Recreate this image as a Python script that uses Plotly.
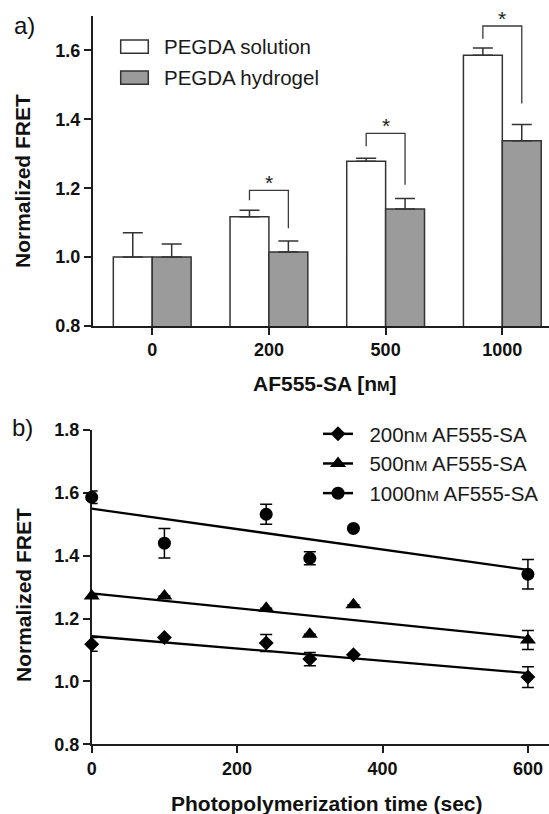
import numpy as np
import plotly.graph_objects as go

# ---------------- data: panel a ----------------
conc_labels = ["0", "200", "500", "1000"]
solution_vals = [1.000, 1.117, 1.278, 1.586]
solution_err = [0.071, 0.019, 0.009, 0.021]
hydrogel_vals = [1.000, 1.015, 1.140, 1.338]
hydrogel_err = [0.038, 0.032, 0.030, 0.047]
# significance brackets (category index, left leg bottom, top, right leg bottom)
sig_idx = [1, 2, 3]
sig_left_bottom = [1.165, 1.322, 1.634]
sig_top = [1.194, 1.359, 1.671]
sig_right_bottom = [1.084, 1.210, 1.446]

# ---------------- data: panel b ----------------
time_sec = [0, 100, 240, 300, 360, 600]
fret_200 = [1.118, 1.140, 1.122, 1.071, 1.085, 1.014]
err_200 = [0.022, 0.0, 0.027, 0.021, 0.0, 0.033]
fret_500 = [1.272, 1.272, 1.233, 1.150, 1.244, 1.132]
err_500 = [0.0, 0.0, 0.0, 0.0, 0.0, 0.030]
fret_1000 = [1.586, 1.440, 1.532, 1.392, 1.487, 1.341]
err_1000 = [0.020, 0.047, 0.032, 0.021, 0.0, 0.047]
fit_x = [0, 600]

W, H = 549, 814
FONT = "Liberation Sans, Arial, sans-serif"
AX = "#1e1e1e"
EDGE = "#333333"
GRAY = "#9b9b9b"


def px(x):
    return x / W


def py(y):
    return 1 - y / H


fig = go.Figure()

# ---------- panel a bars ----------
xcat = list(range(len(conc_labels)))
fig.add_trace(go.Bar(
    x=xcat, y=solution_vals, name="PEGDA solution", showlegend=False,
    marker=dict(color="white", line=dict(color=EDGE, width=1.5)),
    error_y=dict(type="data", symmetric=False, array=solution_err,
                 arrayminus=[0] * len(solution_err), color=EDGE, thickness=1.5, width=10),
    xaxis="x", yaxis="y",
))
fig.add_trace(go.Bar(
    x=xcat, y=hydrogel_vals, name="PEGDA hydrogel", showlegend=False,
    marker=dict(color=GRAY, line=dict(color=EDGE, width=1.5)),
    error_y=dict(type="data", symmetric=False, array=hydrogel_err,
                 arrayminus=[0] * len(hydrogel_err), color=EDGE, thickness=1.5, width=10),
    xaxis="x", yaxis="y",
))

# ---------- panel b scatter ----------
M_SMALL = "<span style='font-size:15px'>M</span>"
series = [
    ("200n" + M_SMALL + " AF555-SA", fret_200, err_200, "diamond", 11.5),
    ("500n" + M_SMALL + " AF555-SA", fret_500, err_500, "triangle-up", 14),
    ("1000n" + M_SMALL + " AF555-SA", fret_1000, err_1000, "circle", 13),
]
for name, ys, es, sym, sz in series:
    slope, icpt = np.polyfit(time_sec, ys, 1)
    fy = [icpt + slope * xv for xv in fit_x]
    fig.add_trace(go.Scatter(
        x=fit_x, y=fy, mode="lines", line=dict(color="black", width=2.3),
        showlegend=False, xaxis="x2", yaxis="y2", cliponaxis=False, hoverinfo="skip"))
    fig.add_trace(go.Scatter(
        x=time_sec, y=ys, mode="markers",
        marker=dict(symbol=sym, size=sz, color="black"),
        error_y=dict(type="data", array=es, color="black", thickness=1.5, width=6),
        showlegend=False, xaxis="x2", yaxis="y2", cliponaxis=False))
    fig.add_trace(go.Scatter(
        x=[None], y=[None], mode="lines+markers", name="\u00a0\u00a0" + name,
        marker=dict(symbol=sym, size=sz, color="black"),
        line=dict(color="black", width=2.5),
        xaxis="x2", yaxis="y2", legend="legend"))

axis_common = dict(
    showgrid=False, zeroline=False, showline=True, linecolor=AX, linewidth=1.5,
    ticks="outside", ticklen=7, tickwidth=1.5, tickcolor=AX, automargin=False,
    tickfont=dict(family=FONT, size=18, color="#111", weight="bold"),
)

fig.update_layout(
    template="none",
    width=W, height=H,
    margin=dict(l=0, r=0, t=0, b=0, pad=0, autoexpand=False),
    paper_bgcolor="white", plot_bgcolor="white",
    barmode="group", bargap=1 / 3, bargroupgap=0,
    font=dict(family=FONT, color="#111"),
    xaxis=dict(domain=[px(92.7), 1], range=[-0.51, 3.40],
               tickvals=xcat, ticktext=conc_labels, anchor="y", **axis_common),
    yaxis=dict(domain=[py(326), py(16)], range=[0.8, 1.70],
               tickvals=[0.8, 1.0, 1.2, 1.4, 1.6], tickformat=".1f", anchor="x", **axis_common),
    xaxis2=dict(domain=[px(91.7), 1], range=[0, 629], tickvals=[0, 200, 400, 600],
                anchor="y2", layer="below traces", **axis_common),
    yaxis2=dict(domain=[py(744.3), py(430)], range=[0.8, 1.8],
                tickvals=[0.8, 1.0, 1.2, 1.4, 1.6, 1.8], tickformat=".1f",
                anchor="x2", layer="below traces", **axis_common),
    legend=dict(x=px(318), y=py(414), xanchor="left", yanchor="top",
                bgcolor="rgba(0,0,0,0)", font=dict(family=FONT, size=20.5, color="#1a1a1a"),
                itemwidth=30, tracegroupgap=0),
    showlegend=True,
)

shapes = []
annotations = []
# significance brackets in data coordinates
off = 1 / 6
for i, lb, tp, rb in zip(sig_idx, sig_left_bottom, sig_top, sig_right_bottom):
    shapes.append(dict(type="path", xref="x", yref="y",
                       path=f"M {i - off},{lb} L {i - off},{tp} L {i + off},{tp} L {i + off},{rb}",
                       line=dict(color="#3a3a3a", width=1.3)))
    annotations.append(dict(x=i, y=tp, xref="x", yref="y", text="*", showarrow=False,
                            xanchor="center", yanchor="bottom", yshift=-6,
                            font=dict(family=FONT, size=21, color="#222")))

# panel a legend (boxes + labels)
for (y0, y1, col, label) in [(40, 53.3, "white", "PEGDA solution"),
                             (71, 84.3, GRAY, "PEGDA hydrogel")]:
    shapes.append(dict(type="rect", xref="paper", yref="paper",
                       x0=px(120.7), x1=px(148.3), y0=py(y1), y1=py(y0),
                       fillcolor=col, line=dict(color=EDGE, width=1.5)))
    annotations.append(dict(x=px(162), y=py((y0 + y1) / 2), xref="paper", yref="paper",
                            text=label, showarrow=False, xanchor="left", yanchor="middle",
                            font=dict(family=FONT, size=20.5, color="#1a1a1a")))


def centered(x, y, text, font, angle=0):
    return dict(x=px(x), y=py(y), xref="paper", yref="paper", text=text,
                showarrow=False, xanchor="center", yanchor="middle",
                textangle=angle, font=font)


label_font = dict(family=FONT, size=24, color="#111")
annotations.append(centered(24, 26, "a)", label_font))
annotations.append(centered(22.5, 427, "b)", label_font))

# axis titles
title_font = dict(family=FONT, size=21, color="#111", weight="bold")
annotations.append(centered(23, 181, "Normalized FRET", title_font, -90))
annotations.append(centered(23, 595, "Normalized FRET", title_font, -90))
annotations.append(centered(325, 383, "AF555-SA [n<span style='font-size:15px'>M</span>]", title_font))
annotations.append(centered(327, 803, "Photopolymerization time (sec)", title_font))

fig.update_layout(shapes=shapes, annotations=annotations)
fig.write_html(
    "out.html",
    config={"displayModeBar": False},
    post_script="document.body.style.margin='0';document.body.style.padding='0';"
                "document.body.style.overflow='hidden';",
)
